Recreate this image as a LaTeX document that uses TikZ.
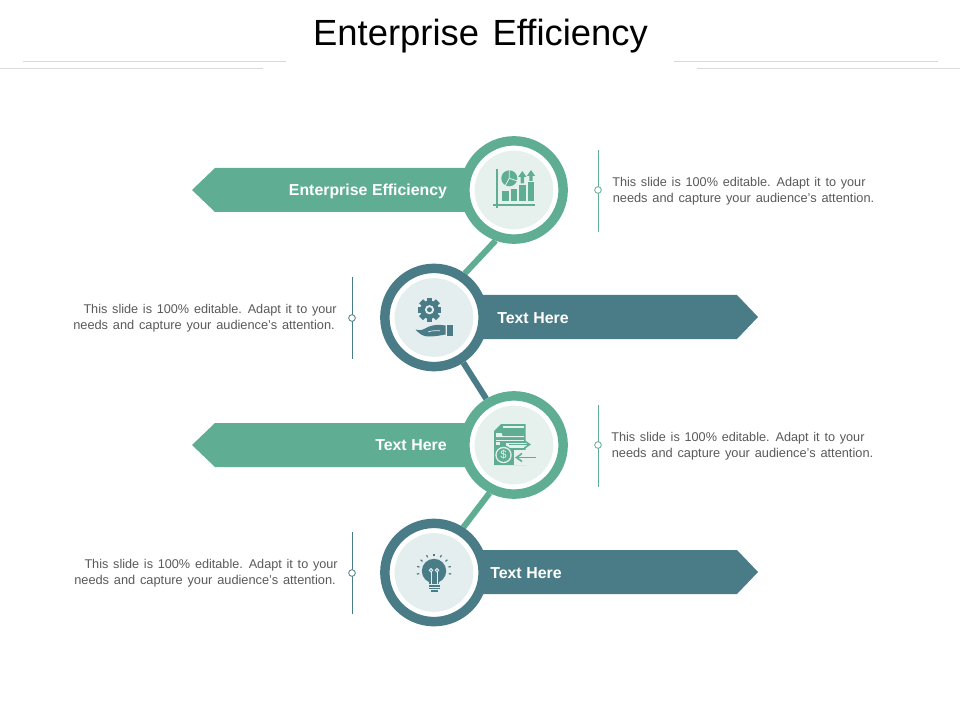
\documentclass[tikz,border=0pt]{standalone}
\usepackage{fontspec}
\setmainfont[WordSpace=1.35]{Liberation Sans}
\newfontfamily\lblfont[WordSpace=1.05]{Liberation Sans}
\usetikzlibrary{backgrounds}
\definecolor{grn}{HTML}{5FAD93}
\definecolor{teal2}{HTML}{4A7C87}
\definecolor{lgrn}{HTML}{E6F1EE}
\definecolor{lteal}{HTML}{E4EEEF}
\definecolor{bodytxt}{HTML}{595959}
\definecolor{rule2}{HTML}{D9D9D9}
\tikzset{
  x=0.75pt,y=-0.75pt,
  ring/.style={circle,fill=white,draw=#1,line width=7.1pt,minimum size=73.7pt,inner sep=0pt},
  disc/.style={circle,fill=#1,minimum size=59pt,inner sep=0pt},
  conn/.style={draw=#1,line width=4.5pt},
  band/.style={fill=#1},
  bandtxt/.style={text=white,font=\lblfont\fontsize{11.9}{14}\selectfont\bfseries,inner sep=0pt},
  note/.style={text=bodytxt,font=\fontsize{9.5}{12}\selectfont,inner sep=0pt},
  notewide/.style={text=bodytxt,font=\fontsize{9.6}{12}\selectfont,inner sep=0pt},
  side/.style={draw=#1,line width=0.6pt},
  dot/.style={circle,draw=#1,fill=white,line width=0.6pt,minimum size=5pt,inner sep=0pt},
  hair/.style={draw=rule2,line width=0.6pt}
}
\begin{document}
\begin{tikzpicture}
\useasboundingbox (0,0) rectangle (960,720);
% header
\node[font=\fontsize{27.3}{32}\selectfont,text=black,inner sep=0pt] (title) at (480.5,36) {Enterprise Efficiency};
\coordinate (ha) at (23,61); \coordinate (hb) at (286,61);
\coordinate (hc) at (0,68); \coordinate (hd) at (263,68);
\coordinate (he) at (674,61); \coordinate (hf) at (938,61);
\coordinate (hg) at (697,68); \coordinate (hh) at (960,68);
\draw[hair] (ha)--(hb); \draw[hair] (hc)--(hd); \draw[hair] (he)--(hf); \draw[hair] (hg)--(hh);
% rings
\node[ring=grn]   (c1) at (514,190) {};
\node[ring=teal2] (c2) at (434,317.5) {};
\node[ring=grn]   (c3) at (514,445) {};
\node[ring=teal2] (c4) at (434,572.5) {};
\node[disc=lgrn]  (d1) at (c1) {};
\node[disc=lteal] (d2) at (c2) {};
\node[disc=lgrn]  (d3) at (c3) {};
\node[disc=lteal] (d4) at (c4) {};
\begin{scope}[on background layer]
  \draw[conn=grn]   (c1.250) -- (c2.55);
  \draw[conn=teal2] (c2.-57) -- (c3.121);
  \draw[conn=grn]   (c3.243) -- (c4.57);
  \fill[band=grn]   (192,190) -- (215,168) -- (480,168) -- (480,212) -- (215,212) -- cycle;
  \fill[band=teal2] (470,295) -- (737,295) -- (758,317) -- (737,339) -- (470,339) -- cycle;
  \fill[band=grn]   (192,445) -- (215,423) -- (480,423) -- (480,467) -- (215,467) -- cycle;
  \fill[band=teal2] (470,550) -- (737,550) -- (758,572) -- (737,594) -- (470,594) -- cycle;
\end{scope}
% band labels
\node[bandtxt] (b1) at (368,191.5) {Enterprise Efficiency};
\node[bandtxt] (b2) at (533,318) {Text Here};
\node[bandtxt] (b3) at (411,445) {Text Here};
\node[bandtxt] (b4) at (526,573) {Text Here};
% side rules
\coordinate (s1a) at (598,150); \coordinate (s1b) at (598,232);
\coordinate (s2a) at (352,277); \coordinate (s2b) at (352,359);
\coordinate (s3a) at (598,405); \coordinate (s3b) at (598,487);
\coordinate (s4a) at (352,532); \coordinate (s4b) at (352,614);
\draw[side=grn] (s1a)--(s1b); \draw[side=teal2] (s2a)--(s2b);
\draw[side=grn] (s3a)--(s3b); \draw[side=teal2] (s4a)--(s4b);
\node[dot=grn]   (p1) at (598,190) {};
\node[dot=teal2] (p2) at (352,318) {};
\node[dot=grn]   (p3) at (598,445) {};
\node[dot=teal2] (p4) at (352,573) {};
% notes
\node[note,anchor=west] (n1a) at (612,183.5) {This slide is 100\% editable. Adapt it to your};
\node[notewide,anchor=west] (n1b) at (612.5,199) {needs and capture your audience's attention.};
\node[note,anchor=east] (n2a) at (337,310.5) {This slide is 100\% editable. Adapt it to your};
\node[notewide,anchor=east] (n2b) at (335,326) {needs and capture your audience's attention.};
\node[note,anchor=west] (n3a) at (611,438) {This slide is 100\% editable. Adapt it to your};
\node[notewide,anchor=west] (n3b) at (611.5,454) {needs and capture your audience's attention.};
\node[note,anchor=east] (n4a) at (338,565.5) {This slide is 100\% editable. Adapt it to your};
\node[notewide,anchor=east] (n4b) at (336,581) {needs and capture your audience's attention.};
% icon 1: chart
\begin{scope}[grn]
  \draw[line width=1.2pt] (496.7,169) -- (496.7,208);
  \draw[line width=1.2pt] (493,205) -- (534.5,205);
  \fill (502.2,191.5) rectangle (508.5,201);
  \fill (510.7,189) rectangle (517,201);
  \fill (519,185.5) rectangle (525.5,201);
  \fill (527.7,182) rectangle (534.3,201);
  \fill (509.3,178.3) circle (8);
  \draw[lgrn,line width=0.6pt] (509.3,178.3) -- (509.3,170) (509.3,178.3) -- (517.5,181) (509.3,178.3) -- (505,186);
  \fill (522.3,171) -- (526.5,177) -- (524,177) -- (524,183.5) -- (520.6,183.5) -- (520.6,177) -- (518.1,177) -- cycle;
  \fill (531,170) -- (535.2,176) -- (532.7,176) -- (532.7,181) -- (529.3,181) -- (529.3,176) -- (526.8,176) -- cycle;
\end{scope}
% icon 2: gear in hand
\begin{scope}[teal2]
  \foreach \a in {0,45,...,315}{
    \fill[rotate around={\a:(429.5,309.7)}] (426.7,297.8) rectangle (432.3,304);
  }
  \fill (429.5,309.7) circle (9.2);
  \fill[lteal] (429.5,309.7) circle (4.6);
  \fill (429.5,309.7) circle (2.5);
  \fill (447,325) rectangle (453,336);
  \fill (415.5,329.5) .. controls (421,331.5) and (424,329) .. (428,327)
        .. controls (433,324.5) and (440,324.5) .. (445.5,325.5) -- (445.5,334.5)
        .. controls (438,336) and (433,336.5) .. (428,336.5)
        .. controls (423,336.5) and (419,333.5) .. (415.5,329.5) -- cycle;
  \draw[lteal,line width=0.5pt] (428,332) .. controls (432,330.5) and (436,330.5) .. (440,330.8);
\end{scope}
% icon 3: document with coin
\begin{scope}[grn]
  \fill (501,424) -- (525.7,424) -- (525.7,465) -- (494,465) -- (494,431) -- cycle;
  \fill[lgrn] (503,426) rectangle (524,427.5);
  \fill[lgrn] (496,433) -- (501.5,433) -- (502.5,436) -- (524,436) -- (524,437) -- (496,437) -- cycle;
  \fill[lgrn] (496,439.5) rectangle (524,440.5);
  \fill[lgrn] (506,443) rectangle (531,448);
  \fill[lgrn] (496,441.5) rectangle (500,445);
  \fill[lgrn] (513.5,450) rectangle (537,464);
  \fill[lgrn] (513.5,464) rectangle (525.7,465.2);
  \fill (503.5,455) circle (9.5);
  \fill[lgrn] (503.5,455) circle (8.2);
  \fill (503.5,455) circle (6.8);
  \node[text=lgrn,font=\fontsize{8.5}{9}\selectfont,inner sep=0pt] (dollar) at (503.5,455) {\$};
  \draw[line width=1.3pt] (509,444.5) -- (528,444.5);
  \draw[line width=1.2pt] (524.5,441) -- (529.5,444.5) -- (524.5,448);
  \draw[line width=1.3pt] (518,457.5) -- (535.5,457.5);
  \draw[line width=1.2pt] (522,453.5) -- (516.5,457.5) -- (522,461.5);
\end{scope}
% icon 4: bulb
\begin{scope}[teal2]
  \fill (434,571) circle (12.2);
  \fill (429,579) rectangle (439,584);
  \fill (428.5,585) rectangle (439.5,586.8);
  \fill (428.5,587.6) rectangle (439.5,589.4);
  \fill (430.5,590) rectangle (437.5,591.8);
  \draw[lteal,line width=0.7pt] (431,584) -- (431,572) (437,584) -- (437,572);
  \draw[lteal,line width=0.7pt] (431,570.3) circle (1.7) (437,570.3) circle (1.7);
  \foreach \a in {-10,15,40,65,90,115,140,165,190}{
    \draw[line width=0.9pt] ({434+15*cos(\a)},{571-15*sin(\a)}) -- ({434+17.5*cos(\a)},{571-17.5*sin(\a)});
  }
\end{scope}
\end{tikzpicture}
\end{document}
